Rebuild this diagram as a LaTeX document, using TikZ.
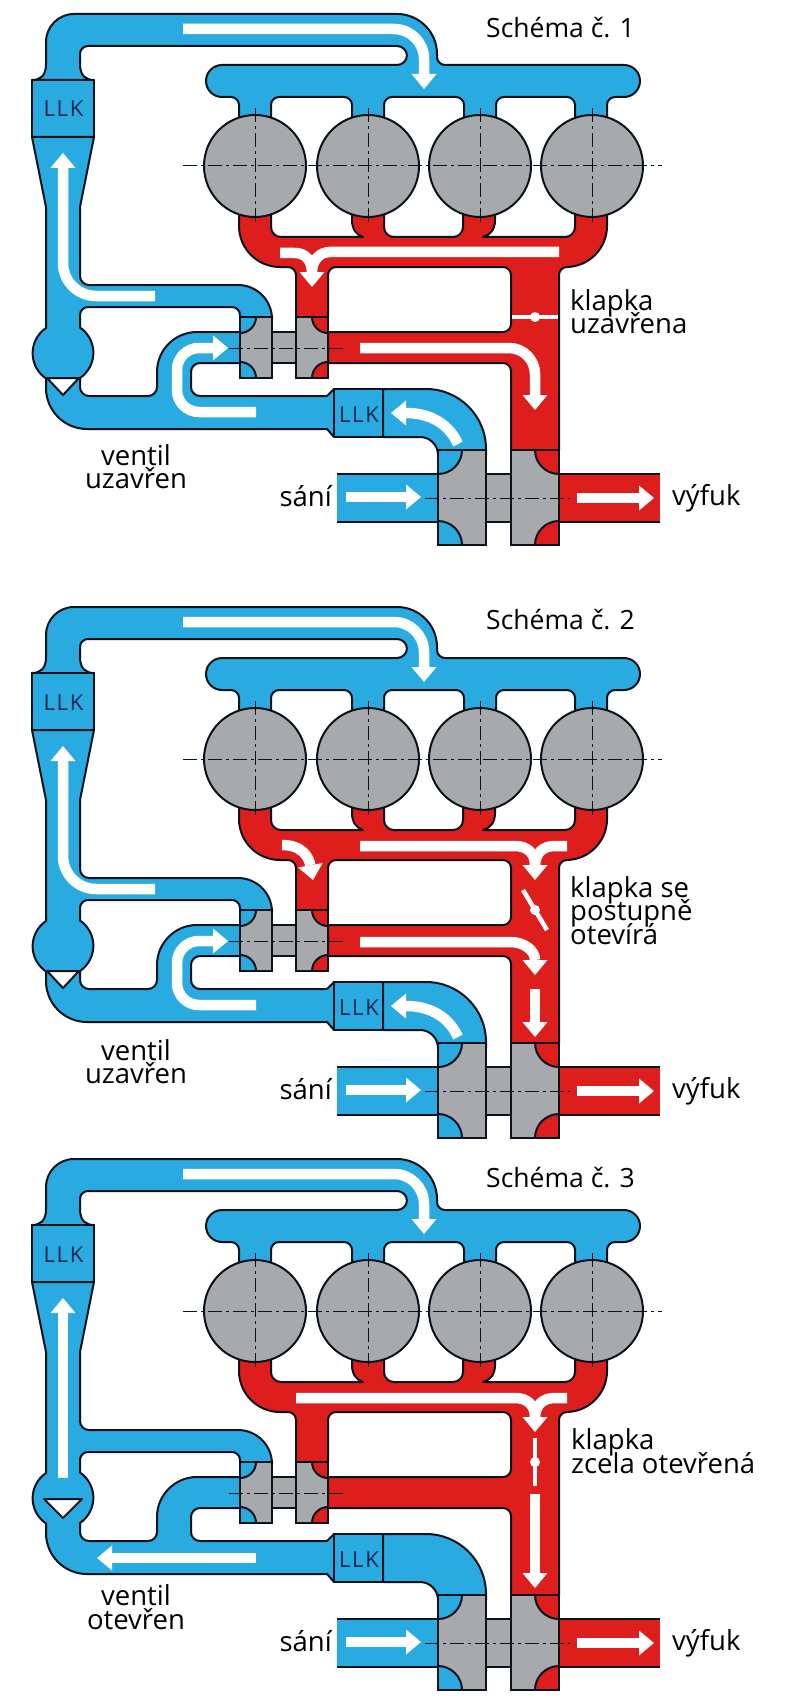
\documentclass[tikz,border=0pt]{standalone}
\usepackage{fontspec}
\setmainfont{Open Sans}
\newfontfamily\llkfont[LetterSpace=8]{Open Sans}
\definecolor{pipeblue}{RGB}{41, 171, 226}
\definecolor{pipered}{RGB}{222, 30, 28}
\definecolor{housegray}{RGB}{167, 169, 172}
\definecolor{inkblack}{RGB}{10, 18, 28}
\definecolor{llknavy}{RGB}{14, 38, 78}
\usetikzlibrary{arrows.meta}
\tikzset{
	bluepipe/.style={draw=inkblack, fill=pipeblue, line width=2pt, line join=round},
	redpipe/.style={draw=inkblack, fill=pipered, line width=2pt, line join=round},
	housing/.style={draw=inkblack, line width=2pt},
	axisline/.style={draw=inkblack, line width=1pt, dash pattern=on 14pt off 4pt on 3pt off 4pt},
	flowarrow/.style={draw=white, line width=10.5pt, -{Triangle[width=25pt,length=15pt,line width=0pt]}},
	flowband/.style={draw=white, line width=10.5pt},
	flapline/.style={draw=white, line width=4.5pt},
	titletext/.style={anchor=base west, inner sep=0pt, font=\fontsize{26.5}{26.5}\selectfont},
	notetext/.style={anchor=base west, inner sep=0pt, font=\fontsize{27.5}{27.5}\selectfont},
	ventiltext/.style={anchor=base, inner sep=0pt, font=\fontsize{27.5}{27.5}\selectfont},
	llktext/.style={anchor=base, inner sep=0pt, text=llknavy, font=\llkfont\fontsize{22}{22}\selectfont},
}
% everything that all three schemes share
\newcommand{\enginebase}{
	% exhaust side
	\fill[pipered] (559,474) rectangle (660,522);
	\draw[housing] (559,474) -- (660,474) (559,522) -- (660,522);
	\draw[redpipe] (239,205) [rounded corners=41pt] -- (239,267) [rounded corners=8pt] -- (296,267) [sharp corners] -- (296,317) -- (328,317)
		[rounded corners=8pt] -- (328,267) -- (511,267) -- (511,332) [sharp corners] -- (328,332) -- (328,363)
		[rounded corners=8pt] -- (511,363) [sharp corners] -- (511,450) -- (559,450) [rounded corners=8pt] -- (559,267)
		[rounded corners=41pt] -- (607,267) [sharp corners] -- (607,205) -- (575,205) [rounded corners=10pt] -- (575,237)
		[sharp corners] -- (483,237) .. controls (490,235) and (495,230) .. (495,220) -- (495,205) -- (463,205)
		[rounded corners=10pt] -- (463,237) -- (384,237) [sharp corners] -- (384,205) -- (352,205) -- (352,220)
		.. controls (352,230) and (357,235) .. (363,237) [rounded corners=10pt] -- (271,237) [sharp corners] -- (271,205) -- cycle;
	% charge air pipe and manifold
	\draw[bluepipe] (32,80) .. controls (40,80) and (46,76) .. (46,64) [rounded corners=28pt] -- (46,14) [rounded corners=40pt] -- (437,14)
		[rounded corners=8pt] -- (437,65) [rounded corners=16pt] -- (640,65) -- (640,97) [rounded corners=8pt] -- (607,97)
		[sharp corners] -- (607,125) -- (575,125) [rounded corners=8pt] -- (575,97) -- (496,97) [sharp corners] -- (496,125) -- (464,125)
		[rounded corners=8pt] -- (464,97) -- (384,97) [sharp corners] -- (384,125) -- (352,125) [rounded corners=8pt] -- (352,97) -- (271,97)
		[sharp corners] -- (271,125) -- (239,125) [rounded corners=8pt] -- (239,97) [rounded corners=16pt] -- (206,97) -- (206,65)
		[rounded corners=10pt] -- (407,65) -- (407,46) [rounded corners=8pt] -- (80,46) [sharp corners] -- (80,64)
		.. controls (80,76) and (86,80) .. (94,80) -- cycle;
	\draw[bluepipe] (32,80) rectangle (94,137);
	% pipes round the valve
	\draw[bluepipe] (32,137) -- (46,207) -- (46,328) arc[start angle=124.2, end angle=235.8, radius=30.5pt]
		[rounded corners=41pt] -- (46,429) [sharp corners] -- (327,429) -- (334,437) -- (334,389) -- (327,396)
		[rounded corners=9pt] -- (191,396) -- (191,363) [sharp corners] -- (240,363) -- (240,332)
		[rounded corners=40pt] -- (157,332) [rounded corners=9pt] -- (157,396) -- (80,396) [sharp corners] -- (80,378)
		arc[start angle=-55.8, end angle=55.8, radius=30.5pt] [rounded corners=8pt] -- (80,307) -- (240,307)
		[sharp corners] -- (240,317) -- (272,317) [rounded corners=34pt] -- (272,285) [rounded corners=9pt] -- (80,285)
		[sharp corners] -- (80,207) -- (94,137) -- cycle;
	\draw[bluepipe] (383,389) [rounded corners=60pt] -- (486,389) [sharp corners] -- (486,455) -- (438,455)
		[rounded corners=18pt] -- (438,437) [sharp corners] -- (383,437) -- cycle;
	\draw[bluepipe] (334,389) rectangle (383,437);
	\fill[pipeblue] (337,474) rectangle (438,522);
	\draw[housing] (337,474) -- (438,474) (337,522) -- (438,522);
	% turbochargers
	\fill[housegray] (240,317) rectangle (272,378) (272,332) rectangle (296,363) (296,317) rectangle (328,378);
	\fill[housegray] (438,450) rectangle (486,545) (486,474) rectangle (511,522) (511,450) rectangle (559,545);
	\begin{scope}
		\clip (240,317) rectangle (328,378);
		\filldraw[bluepipe] (240,317) circle[radius=16pt] (240,378) circle[radius=16pt];
		\filldraw[redpipe] (328,317) circle[radius=16pt] (328,378) circle[radius=16pt];
	\end{scope}
	\begin{scope}
		\clip (438,450) rectangle (559,545);
		\filldraw[bluepipe] (438,450) circle[radius=24pt] (438,545) circle[radius=24pt];
		\filldraw[redpipe] (559,450) circle[radius=24pt] (559,545) circle[radius=24pt];
	\end{scope}
	\draw[housing] (240,317) rectangle (272,378) (272,332) rectangle (296,363) (296,317) rectangle (328,378);
	\draw[housing] (438,450) rectangle (486,545) (486,474) rectangle (511,522) (511,450) rectangle (559,545);
	\draw[axisline] (229,348) -- (343,348);
	\draw[axisline] (425,498) -- (570,498);
	% cylinders
	\foreach \cx in {255,368,480,592}{
		\filldraw[housing, fill=housegray] (\cx,166) circle[radius=51pt];
		\draw[axisline] (\cx,108) -- (\cx,224);
	}
	\draw[axisline] (183,166) -- (662,166);
	% arrows that never change
	\draw[flowarrow] (183,29) [rounded corners=30pt] -- (424,29) [sharp corners] -- (424,89);
	\draw[flowarrow] (346,497) -- (421,497);
	\draw[flowarrow] (577,498) -- (654,498);
	\node[llktext] (llkup) at (63.5,117) {LLK};
	\node[llktext] (llkdown) at (359,422) {LLK};
	\node[notetext, anchor=base east] (intake) at (332,506) {sání};
	\node[notetext] (exhaust) at (672,505) {výfuk};
}
% blue arrows of the two schemes with the valve closed
\newcommand{\boostarrows}{
	\draw[flowarrow] (155,296) [rounded corners=33pt] -- (63,296) [sharp corners] -- (63,153);
	\draw[flowarrow] (256,412) [rounded corners=22pt] -- (177,412) -- (177,348) [sharp corners] -- (228,348);
	\draw[flowarrow] (458,444) .. controls (447,420) and (425,413) .. (391,413);
	\draw[bluepipe] (46,378) -- (80,378);
	\filldraw[housing, fill=white, line join=round] (47,378) -- (79,378) -- (63,395) -- cycle;
}
\begin{document}
\begin{tikzpicture}[x=1pt, y=-1pt]
	\useasboundingbox (0,0) rectangle (800,1704);
	% first scheme
	\begin{scope}[name prefix=one-]
		\enginebase
		\boostarrows
		\draw[flowarrow] (559,252) -- (330,252) .. controls (320,252) and (312,260) .. (312,287);
		\draw[flowband] (280,253) -- (295,253) .. controls (305,253) and (312,260) .. (312,273);
		\draw[flowarrow] (360,348) [rounded corners=26pt] -- (535,348) [sharp corners] -- (535,410);
		\draw[flapline] (512,317) -- (558,317);
		\fill[white] (535,317) circle[radius=5pt];
		\node[titletext] (title) at (486,38) {Schéma č. 1};
		\node[notetext] (flapa) at (570,310) {klapka};
		\node[notetext] (flapb) at (570,333) {uzavřena};
		\node[ventiltext] (ventila) at (136,465) {ventil};
		\node[ventiltext] (ventilb) at (136,488) {uzavřen};
	\end{scope}
	% second scheme
	\begin{scope}[shift={(0,593)}, name prefix=two-]
		\enginebase
		\boostarrows
		\draw[flowarrow] (282,252) .. controls (303,252) and (309,265) .. (313,287);
		\draw[flowarrow] (360,253) -- (515,253) .. controls (527,253) and (535,260) .. (535,287);
		\draw[flowband] (567,253) -- (555,253) .. controls (543,253) and (535,260) .. (535,273);
		\draw[flapline] (523,297) -- (547,337);
		\fill[white] (535,317) circle[radius=5pt];
		\draw[flowarrow] (360,349) -- (510,349) .. controls (525,349) and (535,358) .. (535,382);
		\draw[flowarrow] (535,396) -- (535,444);
		\node[titletext] (title) at (486,36) {Schéma č. 2};
		\node[notetext] (flapa) at (570,304) {klapka se};
		\node[notetext] (flapb) at (570,327) {postupně};
		\node[notetext] (flapc) at (570,351) {otevírá};
		\node[ventiltext] (ventila) at (136,467) {ventil};
		\node[ventiltext] (ventilb) at (136,490) {uzavřen};
	\end{scope}
	% third scheme
	\begin{scope}[shift={(0,1145)}, name prefix=three-]
		\enginebase
		\draw[flowarrow] (63,333) -- (63,153);
		\draw[flowarrow] (256,413) -- (97,413);
		\filldraw[housing, fill=white, line join=round] (44,354) -- (82,354) -- (63,373) -- cycle;
		\draw[flowarrow] (296,253) -- (515,253) .. controls (527,253) and (535,260) .. (535,287);
		\draw[flowband] (567,253) -- (555,253) .. controls (543,253) and (535,260) .. (535,273);
		\draw[flapline] (535,293) -- (535,341);
		\fill[white] (535,317) circle[radius=5pt];
		\draw[flowarrow] (535,349) -- (535,443);
		\node[titletext] (title) at (486,42) {Schéma č. 3};
		\node[notetext] (flapa) at (571,304) {klapka};
		\node[notetext] (flapb) at (571,328) {zcela otevřená};
		\node[ventiltext] (ventila) at (136,460) {ventil};
		\node[ventiltext] (ventilb) at (136,484) {otevřen};
	\end{scope}
\end{tikzpicture}
\end{document}
